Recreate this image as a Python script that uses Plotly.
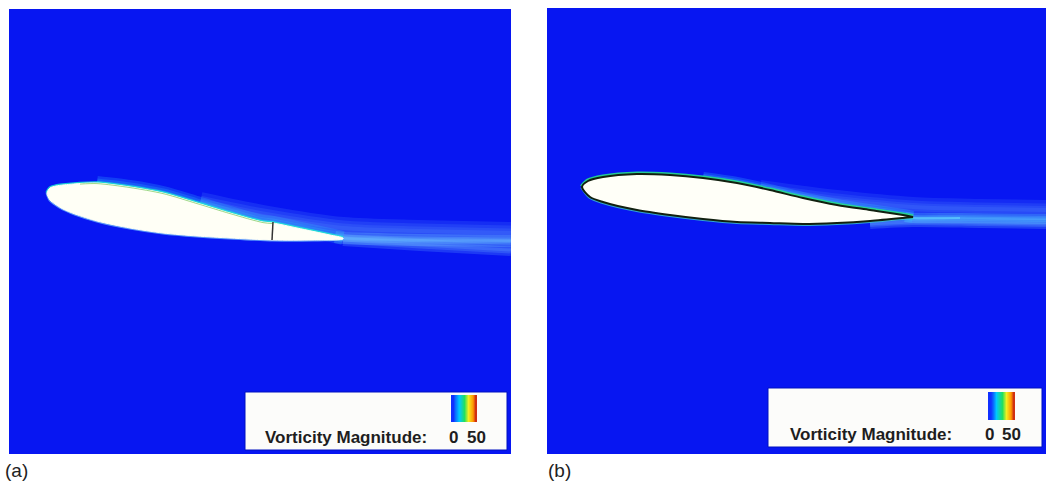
import plotly.graph_objects as go

# ---------------- data (image pixel frame) ----------------
# Panel (a) airfoil outline
a_upper_x = [47, 50, 56, 63, 80, 97, 130, 163, 197, 230, 263, 273, 297, 330, 343]
a_upper_y = [193, 188, 186, 185, 183.5, 183, 187, 193, 203, 213, 222, 223, 228, 235, 238]
a_lower_x = [343, 313, 273, 230, 197, 163, 130, 97, 75, 63, 55, 50, 47]
a_lower_y = [239, 240, 240, 238, 236, 233, 228, 221, 214, 209, 204, 200, 193]
a_split_x = [273, 272]
a_split_y = [222, 240]
# Panel (a) wake bands
a_wake_up_x = [200, 263, 343, 420, 511]
a_wake_up_y = [203, 216, 228, 231, 233]
a_wake_core_x = [335, 343, 420, 511]
a_wake_core_y = [237, 238, 240, 241]
a_wake_low_x = [343, 420, 511]
a_wake_low_y = [240, 245, 250]

# Panel (b) airfoil outline
b_upper_x = [582, 588, 603, 637, 670, 703, 737, 770, 803, 837, 870, 903, 913]
b_upper_y = [187, 181, 177, 174, 175, 178, 183, 190, 198, 205, 210, 215, 217]
b_lower_x = [913, 903, 870, 837, 803, 770, 737, 703, 670, 637, 603, 590, 582]
b_lower_y = [217, 218, 221, 223, 224, 223, 222, 219, 215, 210, 202, 197, 187]
# Panel (b) wake bands
b_wake_up_x = [760, 837, 913, 980, 1046]
b_wake_up_y = [190, 200, 207, 209, 210]
b_wake_core_x = [905, 913, 960, 1046]
b_wake_core_y = [217, 218, 218, 219]
b_wake_low_x = [870, 913, 980, 1046]
b_wake_low_y = [224, 222, 223, 224]

# Colour legend
legend_title = "Vorticity Magnitude:"
legend_min, legend_max = 0, 50
swatch_z = [[0, 10, 20, 30, 40, 50]]
panel_labels = ["(a)", "(b)"]

# ---------------- figure ----------------
W, H = 1047, 487
BLUE = "#0716F2"

def px(x):
    return x / W

def py(y):
    return 1 - y / H

pa = dict(x0=9, x1=511, y0=9, y1=454)
pb = dict(x0=547, x1=1046, y0=8, y1=454)

fig = go.Figure()

def add_line(xs, ys, color, width, axes, fill=None, fillcolor=None, shape="spline"):
    fig.add_trace(go.Scatter(
        x=xs, y=ys, mode="lines",
        line=dict(color=color, width=width, shape=shape, smoothing=0.8),
        fill=fill, fillcolor=fillcolor,
        xaxis=axes[0], yaxis=axes[1], hoverinfo="skip", showlegend=False))

def glow(xs, ys, axes, widths, color_rgb, alpha):
    for w in widths:
        add_line(xs, ys, "rgba(%s,%.2f)" % (color_rgb, alpha), w, axes)

# ---- panel (a)
A = ("x", "y")
glow(a_wake_up_x, a_wake_up_y, A, [22, 15, 9, 4], "90,150,255", 0.18)
glow(a_wake_low_x, a_wake_low_y, A, [12, 7, 3], "100,170,255", 0.24)
glow(a_wake_core_x, a_wake_core_y, A, [12, 7, 4, 2], "110,200,255", 0.27)
glow(a_upper_x[5:], a_upper_y[5:], A, [14, 9, 5], "50,190,255", 0.24)
add_line(a_upper_x, a_upper_y, "rgba(30,230,210,0.85)", 3.5, A)
add_line(a_lower_x, a_lower_y, "rgba(120,200,255,0.7)", 3, A)
# airfoil body
add_line(a_upper_x + a_lower_x, a_upper_y + a_lower_y, "rgba(255,255,245,1)", 1, A,
         fill="toself", fillcolor="#FFFFF6")
add_line(a_upper_x[4:12], [v + 0.6 for v in a_upper_y[4:12]], "rgba(120,200,90,0.7)", 1, A)
add_line(a_split_x, a_split_y, "#333333", 1.5, A, shape="linear")

# ---- panel (b)
B = ("x2", "y2")
glow(b_wake_up_x, b_wake_up_y, B, [20, 13, 8, 4], "90,150,255", 0.17)
glow(b_wake_low_x, b_wake_low_y, B, [10, 6, 3], "100,180,255", 0.25)
glow(b_wake_core_x, b_wake_core_y, B, [10, 6, 3], "90,210,255", 0.28)
add_line(b_wake_core_x[:3], b_wake_core_y[:3], "rgba(110,235,255,0.45)", 2, B)
glow(b_upper_x[5:], b_upper_y[5:], B, [12, 8], "50,190,255", 0.25)
add_line(b_upper_x, b_upper_y, "rgba(40,220,140,0.9)", 5, B)
add_line(b_lower_x, b_lower_y, "rgba(60,200,200,0.8)", 4, B)
add_line(b_upper_x + b_lower_x, b_upper_y + b_lower_y, "#12200F", 2, B,
         fill="toself", fillcolor="#FFFFF8")

# ---- colour swatches
jet = [[0, "#1030ff"], [0.25, "#00c8ff"], [0.5, "#20e060"], [0.7, "#f0f020"],
       [0.88, "#ff9a00"], [1, "#d03010"]]
for xa, ya in (("x3", "y3"), ("x4", "y4")):
    fig.add_trace(go.Heatmap(z=swatch_z, colorscale=jet, zmin=legend_min, zmax=legend_max,
                             showscale=False, zsmooth="best", xaxis=xa, yaxis=ya,
                             hoverinfo="skip"))

ax_common = dict(showgrid=False, zeroline=False, showticklabels=False, ticks="",
                 showline=False, fixedrange=True)

def dom(p):
    return [px(p["x0"]), px(p["x1"])], [py(p["y1"]), py(p["y0"])]

dxa, dya = dom(pa)
dxb, dyb = dom(pb)
sa = dict(x0=451, x1=477, y0=395, y1=422)
sb = dict(x0=988, x1=1015, y0=392, y1=420)
dxsa, dysa = dom(sa)
dxsb, dysb = dom(sb)

fig.update_layout(
    width=W, height=H,
    margin=dict(l=0, r=0, t=0, b=0),
    paper_bgcolor="white", plot_bgcolor=BLUE,
    xaxis=dict(domain=dxa, range=[pa["x0"], pa["x1"]], **ax_common),
    yaxis=dict(domain=dya, range=[pa["y1"], pa["y0"]], **ax_common),
    xaxis2=dict(domain=dxb, range=[pb["x0"], pb["x1"]], anchor="y2", **ax_common),
    yaxis2=dict(domain=dyb, range=[pb["y1"], pb["y0"]], anchor="x2", **ax_common),
    xaxis3=dict(domain=dxsa, anchor="y3", **ax_common),
    yaxis3=dict(domain=dysa, anchor="x3", **ax_common),
    xaxis4=dict(domain=dxsb, anchor="y4", **ax_common),
    yaxis4=dict(domain=dysb, anchor="x4", **ax_common),
    showlegend=False,
)

# legend boxes
for bx in (dict(x0=245, x1=507, y0=392, y1=450), dict(x0=768, x1=1042, y0=388, y1=447)):
    fig.add_shape(type="rect", xref="paper", yref="paper",
                  x0=px(bx["x0"]), x1=px(bx["x1"]), y0=py(bx["y1"]), y1=py(bx["y0"]),
                  fillcolor="#FCFCFA", line=dict(color="#0010C0", width=1), layer="below")

font_leg = dict(family="Liberation Sans, Arial", size=17, color="#1e1e1e")
for tx, n0x, n1x, ty in ((263, 447, 465, 437), (788, 983, 1000, 434)):
    fig.add_annotation(x=px(tx), y=py(ty), xref="paper", yref="paper", xanchor="left",
                       yanchor="middle", text="<b>%s</b>" % legend_title, showarrow=False,
                       font=font_leg)
    fig.add_annotation(x=px(n0x), y=py(ty), xref="paper", yref="paper", xanchor="left",
                       yanchor="middle", text="<b>%d</b>" % legend_min,
                       showarrow=False, font=font_leg)
    fig.add_annotation(x=px(n1x), y=py(ty), xref="paper", yref="paper", xanchor="left",
                       yanchor="middle", text="<b>%d</b>" % legend_max,
                       showarrow=False, font=font_leg)

for lab, lx in zip(panel_labels, (3, 546)):
    fig.add_annotation(x=px(lx), y=py(470), xref="paper", yref="paper", xanchor="left",
                       yanchor="middle", text=lab, showarrow=False,
                       font=dict(family="Liberation Sans, Arial", size=19, color="#222"))

fig.write_html("out.html")
